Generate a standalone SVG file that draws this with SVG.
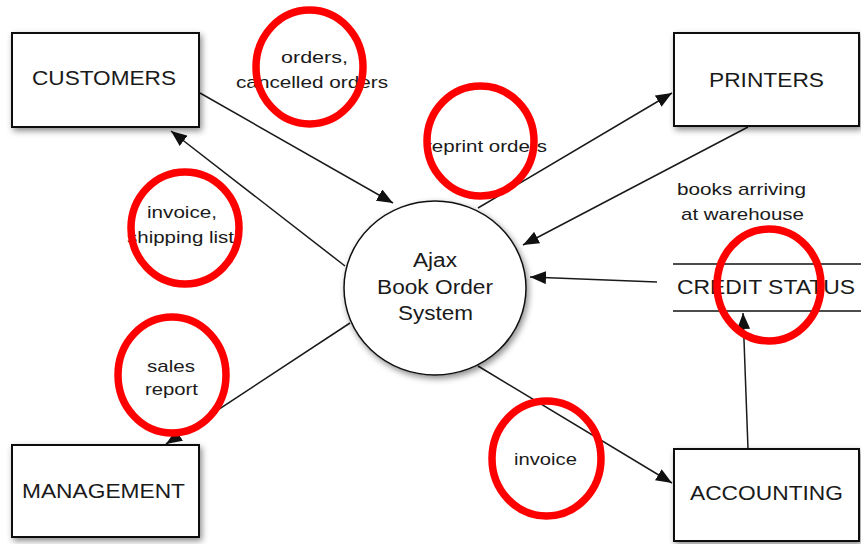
<svg xmlns="http://www.w3.org/2000/svg" width="861" height="544" viewBox="0 0 861 544">
  <style>
    .box { fill: #fff; stroke: #111; stroke-width: 2; filter: url(#shadow); }
    .txt { font-family: "Liberation Sans", Arial, sans-serif; fill: #1a1a1a; }
    .node { font-size: 20px; }
    .lbl { font-size: 17px; }
    .conn { fill: none; stroke: #1a1a1a; stroke-width: 1.5; marker-end: url(#arrow); }
    .mark { fill: none; stroke: #f00; stroke-width: 7.5; }
  </style>
  <defs>
    <filter id="shadow" x="-20%" y="-20%" width="140%" height="140%">
      <feDropShadow dx="2" dy="3" stdDeviation="3" flood-color="#000" flood-opacity="0.45"/>
    </filter>
    <marker id="arrow" markerUnits="userSpaceOnUse" markerWidth="17" markerHeight="13" refX="16" refY="6.5" orient="auto">
      <path d="M0,0 L16,6.5 L0,13 z" fill="#111"/>
    </marker>
  </defs>
  <rect width="861" height="544" fill="#fff"/>

  <g id="connectors">
    <path class="conn" d="M200,93 L393,203"/>
    <path class="conn" d="M345,266 L171,131"/>
    <path class="conn" d="M478,208 L672,93"/>
    <path class="conn" d="M748,127 L523,245"/>
    <path class="conn" d="M657,282 L530,277"/>
    <path class="conn" d="M748,449 L743,313"/>
    <path class="conn" d="M478,366 L672,483"/>
    <path class="conn" d="M350,323 L166,444"/>
  </g>

  <g id="customers">
    <rect class="box" x="12" y="33" width="187" height="94"/>
    <text class="txt node" x="32" y="85" textLength="144" lengthAdjust="spacingAndGlyphs">CUSTOMERS</text>
  </g>
  <g id="printers">
    <rect class="box" x="674" y="33" width="185" height="93"/>
    <text class="txt node" x="709" y="87" textLength="115" lengthAdjust="spacingAndGlyphs">PRINTERS</text>
  </g>
  <g id="management">
    <rect class="box" x="12" y="445" width="187" height="92"/>
    <text class="txt node" x="22" y="498" textLength="163" lengthAdjust="spacingAndGlyphs">MANAGEMENT</text>
  </g>
  <g id="accounting">
    <rect class="box" x="674" y="449" width="185" height="92"/>
    <text class="txt node" x="690" y="500" textLength="153" lengthAdjust="spacingAndGlyphs">ACCOUNTING</text>
  </g>
  <g id="credit-status">
    <line x1="673" y1="264" x2="861" y2="264" stroke="#111" stroke-width="1.5"/>
    <line x1="673" y1="311" x2="861" y2="311" stroke="#111" stroke-width="1.5"/>
    <text class="txt node" x="677" y="294" textLength="178" lengthAdjust="spacingAndGlyphs">CREDIT STATUS</text>
  </g>
  <g id="system">
    <ellipse cx="435" cy="288" rx="91" ry="87" fill="#fff" stroke="#111" stroke-width="1.5" filter="url(#shadow)"/>
    <text class="txt node" x="413" y="267" textLength="44" lengthAdjust="spacingAndGlyphs">Ajax</text>
    <text class="txt node" x="377" y="294" textLength="116" lengthAdjust="spacingAndGlyphs">Book Order</text>
    <text class="txt node" x="398" y="320" textLength="75" lengthAdjust="spacingAndGlyphs">System</text>
  </g>

  <g id="labels">
    <text class="txt lbl" x="281" y="63" textLength="67" lengthAdjust="spacingAndGlyphs">orders,</text>
    <text class="txt lbl" x="236" y="88" textLength="152" lengthAdjust="spacingAndGlyphs">cancelled orders</text>
    <text class="txt lbl" x="425" y="152" textLength="122" lengthAdjust="spacingAndGlyphs">reprint orders</text>
    <text class="txt lbl" x="147" y="218" textLength="70" lengthAdjust="spacingAndGlyphs">invoice,</text>
    <text class="txt lbl" x="127" y="243" textLength="107" lengthAdjust="spacingAndGlyphs">shipping list</text>
    <text class="txt lbl" x="147" y="372" textLength="48" lengthAdjust="spacingAndGlyphs">sales</text>
    <text class="txt lbl" x="145" y="395" textLength="53" lengthAdjust="spacingAndGlyphs">report</text>
    <text class="txt lbl" x="514" y="465" textLength="63" lengthAdjust="spacingAndGlyphs">invoice</text>
    <text class="txt lbl" x="677" y="195" textLength="129" lengthAdjust="spacingAndGlyphs">books arriving</text>
    <text class="txt lbl" x="681" y="220" textLength="123" lengthAdjust="spacingAndGlyphs">at warehouse</text>
  </g>

  <g id="annotations">
    <ellipse class="mark" cx="309.5" cy="67" rx="53.5" ry="57"/>
    <ellipse class="mark" cx="480.5" cy="141" rx="53.5" ry="55"/>
    <ellipse class="mark" cx="185" cy="228" rx="54" ry="56"/>
    <ellipse class="mark" cx="769" cy="285" rx="52" ry="56"/>
    <ellipse class="mark" cx="172" cy="375" rx="54" ry="58"/>
    <ellipse class="mark" cx="546.5" cy="458.5" rx="54.5" ry="57.5"/>
  </g>
</svg>
